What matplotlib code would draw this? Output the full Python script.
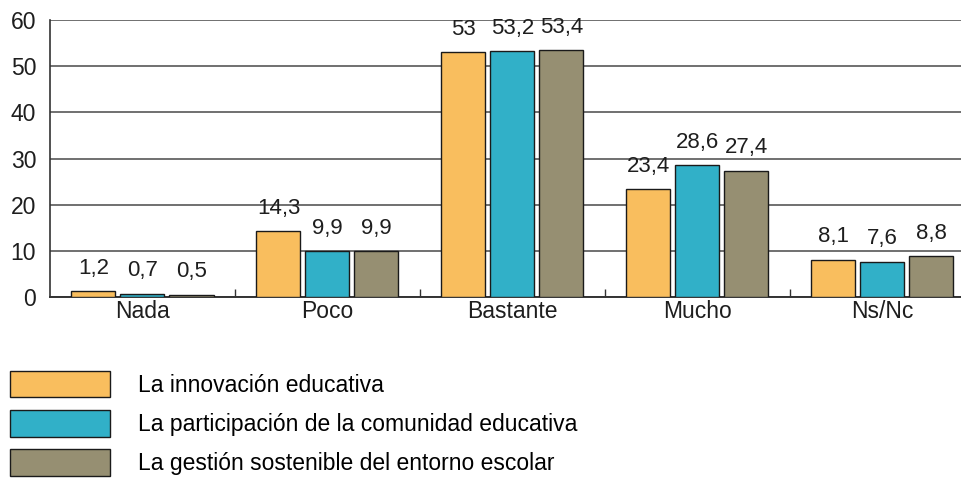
import matplotlib
matplotlib.use('Agg')
import matplotlib.pyplot as plt
import matplotlib.ticker as mticker
from matplotlib.patches import Patch
import numpy as np

plt.rcParams.update({
    'font.family': ['Liberation Sans', 'DejaVu Sans'],
    'font.size': 16.5,
})

categories = ['Nada', 'Poco', 'Bastante', 'Mucho', 'Ns/Nc']
series_names = ['La innovación educativa',
                'La participación de la comunidad educativa',
                'La gestión sostenible del entorno escolar']
innovacion = [1.2, 14.3, 53, 23.4, 8.1]
participacion = [0.7, 9.9, 53.2, 28.6, 7.6]
gestion = [0.5, 9.9, 53.4, 27.4, 8.8]
colors = ['#F9BE5E', '#31B0C8', '#968F72']

fig = plt.figure(figsize=(9.61, 4.80), dpi=100)
ax = fig.add_axes([50 / 961, 183 / 480, 911 / 961, 277 / 480])

x = np.arange(len(categories))
width = 0.238
step = 0.265
for i, (vals, col) in enumerate(zip([innovacion, participacion, gestion], colors)):
    pos = x + (i - 1) * step
    ax.bar(pos, vals, width=width, color=col, edgecolor='#1a1a1a',
           linewidth=1.0, zorder=3)
    for xp, v in zip(pos, vals):
        lbl = f'{v:g}'.replace('.', ',')
        ax.annotate(lbl, (xp, v), xytext=(0, 16.5), textcoords='offset points',
                    ha='center', va='center', fontsize=16, color='#1e1e1e')

ax.set_xlim(-0.5, 4.425)
ax.set_ylim(0, 60)
ax.set_yticks(range(0, 61, 10))
ax.yaxis.grid(True, color='#707070', linewidth=1.4, zorder=0)
ax.set_axisbelow(True)
for s in ['top', 'right']:
    ax.spines[s].set_visible(False)
ax.spines['left'].set_color('#333333')
ax.spines['bottom'].set_color('#333333')
ax.spines['left'].set_linewidth(1.2)
ax.spines['bottom'].set_linewidth(1.4)

ax.set_xticks(x)
ax.set_xticklabels(categories, fontsize=16.5, color='#1e1e1e')
ax.tick_params(axis='x', length=0, pad=2)
ax.tick_params(axis='y', length=0, pad=10, labelsize=16.5, labelcolor='#1e1e1e')
ax.xaxis.set_minor_locator(mticker.FixedLocator(x[1:] - 0.5))
ax.tick_params(axis='x', which='minor', direction='in', length=6,
               color='#333333', width=1)

handles = [Patch(facecolor=c, edgecolor='#1a1a1a', linewidth=1.0) for c in colors]
fig.legend(handles, series_names, loc='upper left',
           bbox_to_anchor=(10 / 961, 1 - 371 / 480), frameon=False,
           fontsize=16.5, handlelength=4.37, handleheight=1.4,
           handletextpad=1.22, labelspacing=0.55, borderpad=0,
           borderaxespad=0)

fig.savefig('out.png', dpi=100)
